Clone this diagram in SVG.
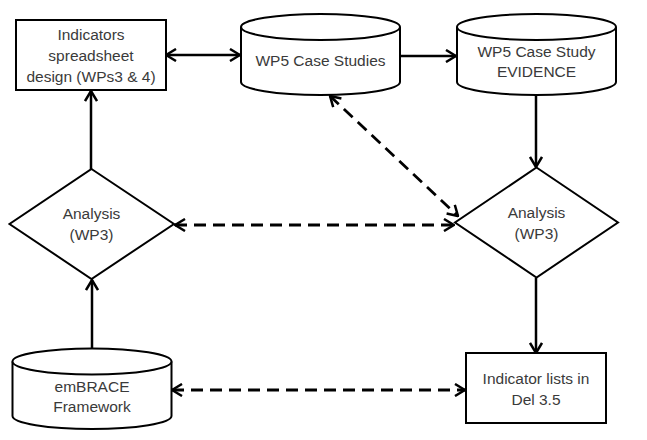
<svg xmlns="http://www.w3.org/2000/svg" width="647" height="440" viewBox="0 0 647 440">
<style>
.n{fill:#fff;stroke:#000;stroke-width:2}
.t{font-family:"Liberation Sans",Arial,sans-serif;font-size:15.5px;fill:#3a3a3a;text-anchor:middle}
.c{fill:none;stroke:#000;stroke-width:2.5}
.d{stroke-dasharray:12 7;stroke-width:2.8}
</style>
<defs>
<marker id="ah" viewBox="0 0 12 14" refX="11" refY="7" markerWidth="12" markerHeight="14" markerUnits="userSpaceOnUse" orient="auto-start-reverse">
<path d="M1,1 L11,7 L1,13" fill="none" stroke="#000" stroke-width="2.5"/>
</marker>
</defs>
<rect width="647" height="440" fill="#fff"/>
<g id="connectors">
<path class="c" d="M166,55 L240,55" marker-start="url(#ah)" marker-end="url(#ah)"/>
<path class="c" d="M400,56 L456,56" marker-end="url(#ah)"/>
<path class="c" d="M536,95 L536,167" marker-end="url(#ah)"/>
<path class="c" d="M91,169 L91,91" marker-end="url(#ah)"/>
<path class="c" d="M92,348 L92,280" marker-end="url(#ah)"/>
<path class="c" d="M536,278 L536,353" marker-end="url(#ah)"/>
<path class="c d" d="M175,225 L454,225" marker-start="url(#ah)" marker-end="url(#ah)"/>
<path class="c d" d="M330,96 L458,216" marker-start="url(#ah)" marker-end="url(#ah)"/>
<path class="c d" d="M172,390 L465,390" marker-start="url(#ah)" marker-end="url(#ah)"/>
</g>
<g id="box-indicators">
<rect class="n" x="16" y="20" width="150" height="70"/>
<text class="t" x="91" y="40">Indicators</text>
<text class="t" x="91" y="61">spreadsheet</text>
<text class="t" x="91" y="82">design (WPs3 &amp; 4)</text>
</g>
<g id="cyl-case-studies">
<path class="n" d="M241,27 L241,82 A79.5,13 0 0 0 400,82 L400,27"/>
<ellipse class="n" cx="320.5" cy="27" rx="79.5" ry="13"/>
<text class="t" x="320.5" y="66">WP5 Case Studies</text>
</g>
<g id="cyl-evidence">
<path class="n" d="M457,27 L457,82 A79.5,13 0 0 0 616,82 L616,27"/>
<ellipse class="n" cx="536.5" cy="27" rx="79.5" ry="13"/>
<text class="t" x="536.5" y="57">WP5 Case Study</text>
<text class="t" x="536.5" y="77">EVIDENCE</text>
</g>
<g id="diamond-analysis-left">
<polygon class="n" points="91.5,169 174,224 91.5,279 9.5,224"/>
<text class="t" x="91.5" y="219">Analysis</text>
<text class="t" x="91.5" y="240">(WP3)</text>
</g>
<g id="diamond-analysis-right">
<polygon class="n" points="536.5,167.5 618,222.5 536.5,277.5 455,222.5"/>
<text class="t" x="536.5" y="218">Analysis</text>
<text class="t" x="536.5" y="239">(WP3)</text>
</g>
<g id="cyl-embrace">
<path class="n" d="M12.5,361.5 L12.5,416 A79.5,13 0 0 0 171.5,416 L171.5,361.5"/>
<ellipse class="n" cx="92" cy="361.5" rx="79.5" ry="13"/>
<text class="t" x="92" y="392">emBRACE</text>
<text class="t" x="92" y="412">Framework</text>
</g>
<g id="box-indicator-lists">
<rect class="n" x="466" y="353" width="140" height="70"/>
<text class="t" x="536" y="384">Indicator lists in</text>
<text class="t" x="536" y="405">Del 3.5</text>
</g>
</svg>
